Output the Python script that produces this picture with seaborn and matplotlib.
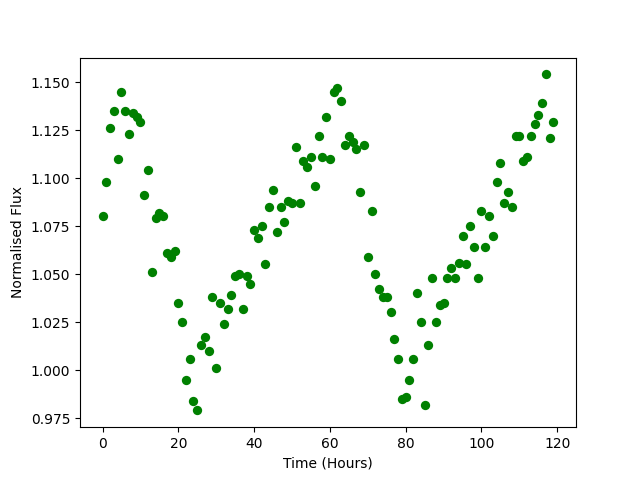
import matplotlib
matplotlib.use("Agg")
import matplotlib.pyplot as plt
import pandas as pd
import seaborn as sns

# hourly normalised flux readings
hours = list(range(120))
flux = [
    1.080, 1.098, 1.126, 1.135, 1.110, 1.145, 1.135, 1.123, 1.134, 1.132,
    1.129, 1.091, 1.104, 1.051, 1.079, 1.082, 1.080, 1.061, 1.059, 1.062,
    1.035, 1.025, 0.995, 1.006, 0.984, 0.979, 1.013, 1.017, 1.010, 1.038,
    1.001, 1.035, 1.024, 1.032, 1.039, 1.049, 1.050, 1.032, 1.049, 1.045,
    1.073, 1.069, 1.075, 1.055, 1.085, 1.094, 1.072, 1.085, 1.077, 1.088,
    1.087, 1.116, 1.087, 1.109, 1.106, 1.111, 1.096, 1.122, 1.111, 1.132,
    1.110, 1.145, 1.147, 1.140, 1.117, 1.122, 1.119, 1.115, 1.093, 1.117,
    1.059, 1.083, 1.050, 1.042, 1.038, 1.038, 1.030, 1.016, 1.006, 0.985,
    0.986, 0.995, 1.006, 1.040, 1.025, 0.982, 1.013, 1.048, 1.025, 1.034,
    1.035, 1.048, 1.053, 1.048, 1.056, 1.070, 1.055, 1.075, 1.064, 1.048,
    1.083, 1.064, 1.080, 1.070, 1.098, 1.108, 1.087, 1.093, 1.085, 1.122,
    1.122, 1.109, 1.111, 1.122, 1.128, 1.133, 1.139, 1.154, 1.121, 1.129,
]

df = pd.DataFrame({"Time (Hours)": hours, "Normalised Flux": flux})

fig, ax = plt.subplots(figsize=(6.4, 4.8), dpi=100)
sns.scatterplot(data=df, x="Time (Hours)", y="Normalised Flux", color="green",
                s=45, linewidth=0, ax=ax)
ax.set_xlabel("Time (Hours)")
ax.set_ylabel("Normalised Flux")

fig.savefig("out.png")
